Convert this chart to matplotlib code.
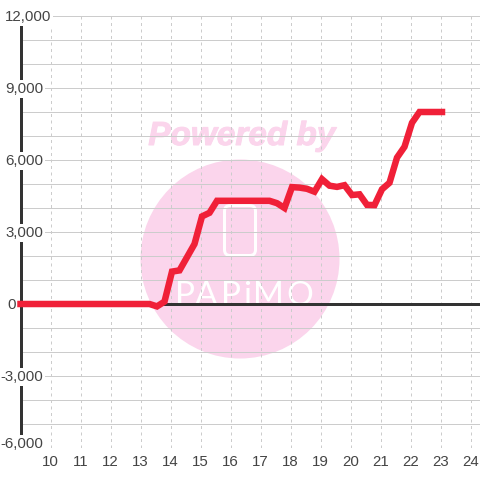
import matplotlib
matplotlib.use('Agg')
import matplotlib.pyplot as plt
import matplotlib.patheffects as pe
from matplotlib.patches import Circle, FancyBboxPatch
from matplotlib.transforms import offset_copy

plt.rcParams['font.family'] = ['Liberation Sans', 'DejaVu Sans']

hours = [9, 13.3, 13.55, 13.8, 14.05, 14.3, 14.55, 14.8, 15.05, 15.3, 15.55,
         17.3, 17.55, 17.8, 18.05, 18.3, 18.55, 18.8, 19.05, 19.3, 19.55, 19.8,
         20.05, 20.3, 20.55, 20.8, 21.05, 21.3, 21.55, 21.8, 22.05, 22.3, 23.05]
values = [0, 0, -100, 100, 1350, 1400, 1950, 2500, 3650, 3800, 4300,
          4300, 4200, 4000, 4870, 4850, 4800, 4680, 5200, 4930, 4880, 4950,
          4540, 4570, 4130, 4120, 4780, 5050, 6100, 6550, 7550, 8000, 8000]

x_ticks = [10, 11, 12, 13, 14, 15, 16, 17, 18, 19, 20, 21, 22, 23, 24]
y_major = [12000, 9000, 6000, 3000, 0, -3000, -6000]
y_labels = ['12,000', '9,000', '6,000', '3,000', '0', '-3,000', '-6,000']
y_grid = [12000, 11000, 10000, 9000, 8000, 7000, 6000, 5000, 4000, 3000, 2000, 1000, 0,
          -1000, -2000, -3000, -4000, -5000, -6000]

# right edge of each y label in pixels, the chart does not line them all up
label_right = {'12,000': 51, '0': 16}
logo_letters = ['P', 'A', 'P', 'i', 'M', 'O']
logo_centers = [185, 206.5, 230.5, 247.5, 268, 300]

GRID = '#cccccc'
DARK = '#333333'
TEXT = '#444444'
PINK = '#fbd5ec'
PX = 72 / 100  # points per pixel at dpi 100

fig = plt.figure(figsize=(4.8, 4.8), dpi=100)
ax = fig.add_axes([20.5 / 480, 32 / 480, 459.5 / 480, 432 / 480])
ax.set_xlim(9, 10 + 429.5 / 30)
ax.set_ylim(-6000, 12000)
ax.patch.set_alpha(0)

# watermark sits under the grid
fig.add_artist(Circle((240 / 480, 1 - 259 / 480), 99.5 / 480, transform=fig.transFigure,
                      fc=PINK, ec='none', zorder=-5))
fig.text(242 / 480, 1 - 136.5 / 480, 'Powered by', color=PINK, fontsize=24, fontweight='bold',
         fontstyle='italic', ha='center', va='center', zorder=-5,
         path_effects=[pe.withStroke(linewidth=1 * PX, foreground=PINK)])
fig.add_artist(FancyBboxPatch((224.5 / 480, 1 - 255.5 / 480), 31 / 480, 50 / 480,
                              boxstyle='round,pad=0,rounding_size=0.012', transform=fig.transFigure,
                              fc='none', ec='white', lw=3 * PX, zorder=-4))
for letter, cx in zip(logo_letters, logo_centers):
    fig.text(cx / 480, 1 - 305 / 480, letter, color='white', fontsize=24, family='Lato',
             ha='center', va='baseline', zorder=-4)

ax.set_xticks(x_ticks)
ax.set_yticks(y_grid)
ax.set_yticklabels([])
ax.grid(True, axis='x', color=GRID, lw=1 * PX, ls=(0, (3, 3.5)))
ax.grid(True, axis='y', color=GRID, lw=1 * PX)
ax.set_axisbelow(True)
ax.tick_params(axis='both', length=0)
ax.tick_params(axis='x', labelsize=10.8, labelcolor=TEXT, pad=5)

for s in ['top', 'right', 'bottom']:
    ax.spines[s].set_visible(False)
ax.spines['left'].set_linewidth(3 * PX)
ax.spines['left'].set_color(DARK)

ax.axhline(0, color=DARK, lw=3 * PX, zorder=3)
ax.plot(hours, values, color='#f02038', lw=6.5 * PX, solid_joinstyle='miter',
        solid_capstyle='projecting', clip_on=False, zorder=4)

trans = ax.get_yaxis_transform()
for v, lab in zip(y_major, y_labels):
    right = label_right.get(lab, 43) - 20.5
    # baseline sits 5 px below the gridline, the bottom label is pushed up into the chart
    drop = 0.5 * PX if v == -6000 else 5.3 * PX
    t = offset_copy(trans, fig=fig, y=-drop, units='points')
    ax.text(right / 459.5, v, lab, transform=t, ha='right', va='baseline', fontsize=10.8,
            color=TEXT, zorder=3.5, clip_on=False,
            bbox=dict(fc='white', ec='none', pad=1.5))

fig.savefig('out.png', dpi=100)
